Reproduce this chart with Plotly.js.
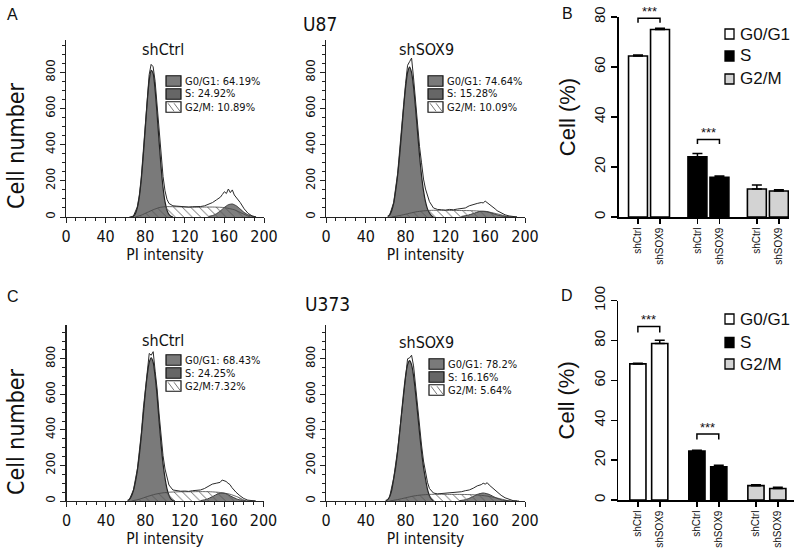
<!DOCTYPE html>
<html><head><meta charset="utf-8">
<script src="https://cdn.plot.ly/plotly-3.0.1.min.js"></script>
<style>html,body{margin:0;padding:0;background:#fff}#chart{width:800px;height:560px}</style>
</head><body><div id="chart"></div>
<script>
// ================= DATA =================
// PI intensity grid for the observed (total) histograms
const PI_GRID = [64,68,72,74,76,78,80,82,84,86,88,90,92,94,96,98,100,102,104,108,112,116,120,124,128,132,136,140,144,148,152,156,158,160,162,164,166,168,170,172,176,180,184,188,192];

// U87 shCtrl
const u87CtrlTotal = [0,4,55,118,218,352,508,662,788,845,832,752,620,475,338,225,145,98,75,62,60,57,58,55,57,56,58,62,72,80,95,110,125,140,130,155,135,150,122,110,80,45,20,6,0];
const u87CtrlG1X = [66,68,70,72,74,76,78,80,82,84,86,88,90,92,94,96,98,100,102,104,106,108];
const u87CtrlG1Y = [0,4,18,50,110,205,335,485,635,755,812,795,705,570,420,280,165,85,38,14,4,0];
const u87CtrlSX = [70,76,82,88,94,100,110,120,130,140,150,160,170,178,186];
const u87CtrlSY = [0,10,25,40,52,57,57,55,54,55,55,52,40,20,0];
const u87CtrlG2X = [144,148,152,156,160,164,168,172,176,180,184,188,192];
const u87CtrlG2Y = [3,8,18,34,53,68,72,62,44,25,12,5,0];
const u87CtrlLegend = ['G0/G1: 64.19%','S: 24.92%','G2/M: 10.89%'];

// U87 shSOX9
const u87Sox9Total = [12,80,241,354,485,621,740,840,860,880,770,640,520,390,300,210,155,115,85,50,42,40,38,42,40,44,45,50,62,70,75,80,78,88,80,72,65,55,45,35,22,12,6,2,0];
const u87Sox9G1X = [62,64,66,68,70,72,74,76,78,80,82,84,86,88,90,92,94,96,98,100,102,104,106,108];
const u87Sox9G1Y = [3,12,35,75,146,231,341,470,603,720,801,830,801,720,603,470,341,231,146,85,45,22,8,0];
const u87Sox9SX = [66,74,82,90,98,106,116,126,136,146,156,166,176,184];
const u87Sox9SY = [0,8,18,28,34,37,37,36,36,35,32,25,12,0];
const u87Sox9G2X = [136,142,148,154,158,162,168,174,180,186,192];
const u87Sox9G2Y = [3,9,19,30,32,30,19,9,3,1,0];
const u87Sox9Legend = ['G0/G1: 74.64%','S: 15.28%','G2/M: 10.09%'];

// U373 shCtrl
const u373CtrlTotal = [10,63,182,280,383,520,630,760,830,820,840,730,630,490,360,255,180,125,90,62,58,55,56,54,58,60,62,70,85,95,100,105,118,115,110,100,92,75,62,50,30,14,5,2,0];
const u373CtrlG1X = [62,64,66,68,70,72,74,76,78,80,82,84,86,88,90,92,94,96,98,100,102,104,106,108,110];
const u373CtrlG1Y = [3,10,28,60,109,174,261,369,488,608,710,780,805,780,700,590,450,320,210,130,70,32,12,3,0];
const u373CtrlSX = [66,74,82,90,98,106,116,126,136,146,156,166,174,182];
const u373CtrlSY = [0,10,25,38,46,50,52,52,53,52,48,38,22,0];
const u373CtrlG2X = [136,142,148,154,158,162,168,174,180,186,192];
const u373CtrlG2Y = [2,9,24,41,45,41,24,9,2,0,0];
const u373CtrlLegend = ['G0/G1: 68.43%','S: 24.25%','G2/M:7.32%'];

// U373 shSOX9
const u373Sox9Total = [25,128,287,394,510,623,730,800,805,820,760,640,530,420,315,225,160,105,70,45,40,42,40,44,46,48,52,58,62,72,85,92,100,95,103,90,80,70,60,50,32,18,8,2,0];
const u373Sox9G1X = [60,62,64,66,68,70,72,74,76,78,80,82,84,86,88,90,92,94,96,98,100,102,104,106,108];
const u373Sox9G1Y = [2,8,25,60,124,191,279,383,497,608,704,767,790,767,704,608,497,383,279,191,124,65,30,10,0];
const u373Sox9SX = [64,72,80,88,96,104,114,124,134,144,154,164,174,184];
const u373Sox9SY = [0,8,18,28,34,37,38,37,37,36,33,26,14,0];
const u373Sox9G2X = [134,140,146,152,158,164,170,176,182,188,194];
const u373Sox9G2Y = [2,7,20,37,45,37,20,7,2,0,0];
const u373Sox9Legend = ['G0/G1: 78.2%','S: 16.16%','G2/M: 5.64%'];

// Bar charts: groups (cell-cycle phase) x conditions
const PHASES = ['G0/G1','S','G2/M'];
const CONDITIONS = ['shCtrl','shSOX9'];
// B (U87)
const u87BarG1 = [64.4, 75.0];
const u87BarS  = [24.1, 15.9];
const u87BarG2 = [11.2, 10.4];
const u87ErrG1 = [0.4, 0.5];
const u87ErrS  = [1.3, 0.5];
const u87ErrG2 = [1.6, 0.5];
const u87SigLevels = [79.5, 31.0];   // bracket heights for G0/G1 and S
// D (U373)
const u373BarG1 = [68.3, 78.5];
const u373BarS  = [24.5, 16.6];
const u373BarG2 = [7.2, 5.8];
const u373ErrG1 = [0.3, 1.7];
const u373ErrS  = [0.4, 0.8];
const u373ErrG2 = [0.5, 0.6];
const u373SigLevels = [87.0, 33.1];

// ================= LAYOUT HELPERS =================
const W = 800, H = 560;
const fx = p => p / W;
const fy = p => 1 - p / H;
const NARROW = "'DejaVu Sans Condensed', 'Liberation Sans Narrow', sans-serif";
const ARIAL = "'Liberation Sans', Arial, sans-serif";
const INK = '#111';

function histX(d0, d1, anchor){
  return {domain:[fx(d0), fx(d1)], anchor, range:[0,200], tick0:0, dtick:40,
    ticks:'outside', ticklen:5, tickwidth:1, tickcolor:'#222',
    minor:{ticks:'outside', tick0:0, dtick:10, ticklen:3, tickwidth:1, tickcolor:'#222', showgrid:false},
    showline:true, linecolor:'#222', linewidth:1.2, showgrid:false, zeroline:false,
    tickfont:{family:NARROW, size:16, color:INK},
    title:{text:'PI intensity', font:{family:NARROW, size:15.5, color:INK}, standoff:2},
    layer:'above traces', fixedrange:true};
}
function histY(top, bottom, anchor, ymax){
  return {domain:[fy(bottom), fy(top)], anchor, range:[0, ymax], tick0:0, dtick:200,
    tickangle:-90, ticks:'outside', ticklen:5, tickwidth:1, tickcolor:'#222',
    minor:{ticks:'outside', tick0:0, dtick:50, ticklen:3, tickwidth:1, tickcolor:'#222', showgrid:false},
    showline:true, linecolor:'#222', linewidth:1.2, showgrid:false, zeroline:false,
    tickfont:{family:NARROW, size:13, color:INK}, layer:'above traces', fixedrange:true};
}

function histTraces(xa, ya, g1x, g1y, sx, sy, g2x, g2y, tot){
  const base = {xaxis:xa, yaxis:ya, showlegend:false, hoverinfo:'skip', type:'scatter', mode:'lines'};
  return [
    Object.assign({}, base, {x:g2x, y:g2y, fill:'tozeroy', fillcolor:'#7e7e7e', line:{color:'#3a3a3a', width:1, shape:'spline', smoothing:0.6}}),
    Object.assign({}, base, {x:g1x, y:g1y, fill:'tozeroy', fillcolor:'#7a7a7a', line:{color:'#222', width:1.2, shape:'spline', smoothing:0.6}}),
    Object.assign({}, base, {x:sx, y:sy, fill:'tozeroy', fillcolor:'rgba(0,0,0,0)',
      fillpattern:{shape:'\\', fgcolor:'#5a5a5a', bgcolor:'rgba(0,0,0,0)', size:6, solidity:0.15},
      line:{color:'#444', width:0.8, shape:'spline', smoothing:0.6}}),
    Object.assign({}, base, {x:PI_GRID, y:tot, line:{color:'#2a2a2a', width:1}})
  ];
}

const GROUP_STEP = 2.7;
const xpos = (g, i) => g * GROUP_STEP + i;
const BAR_FILLS = ['#ffffff', '#000000', '#d3d3d3'];

function barTraces(xa, ya, vals, errs, width){
  return vals.map((v, g) => ({
    type:'bar', xaxis:xa, yaxis:ya, showlegend:false, hoverinfo:'skip', name:PHASES[g],
    x:CONDITIONS.map((c, i) => xpos(g, i)), y:v, width:width,
    marker:{color:BAR_FILLS[g], line:{color:'#000', width:1.6}},
    error_y:{type:'data', symmetric:false, array:errs[g], arrayminus:[0,0], color:'#000', thickness:1.5, width:5}
  }));
}
function barX(d0, d1, anchor, rmax){
  const tv = [], tt = [];
  PHASES.forEach((p, g) => CONDITIONS.forEach((c, i) => { tv.push(xpos(g, i)); tt.push(c); }));
  return {domain:[fx(d0), fx(d1)], anchor, range:[(d0 - 638) / 22, rmax], tickvals:tv, ticktext:tt,
    tickangle:-90, ticks:'outside', ticklen:5, tickwidth:1.5, tickcolor:'#000',
    showline:true, linecolor:'#000', linewidth:1.6, showgrid:false, zeroline:false,
    tickfont:{family:ARIAL, size:10, color:INK}, layer:'above traces', fixedrange:true};
}
function barY(top, bottom, anchor, ymax){
  return {domain:[fy(bottom), fy(top)], anchor, range:[0, ymax], tick0:0, dtick:20,
    tickangle:-90, ticks:'outside', ticklen:6, tickwidth:1.5, tickcolor:'#000',
    showline:true, linecolor:'#000', linewidth:1.6, showgrid:false, zeroline:false,
    tickfont:{family:ARIAL, size:15, color:INK},
    title:{text:'Cell (%)', font:{family:ARIAL, size:22, color:INK}, standoff:10},
    layer:'above traces', fixedrange:true};
}

const shapes = [], annotations = [];
function txt(x, y, text, size, family, xanchor, angle){
  annotations.push({xref:'paper', yref:'paper', x:fx(x), y:fy(y), text, showarrow:false, textangle:angle || 0,
    xanchor:xanchor || 'center', yanchor:'middle', font:{family:family || NARROW, size, color:INK}});
}
function histLegend(labels, x0, rows){
  const w = 15, h = 10.5, fills = ['#7a7a7a', '#666666', '#ffffff'];
  rows.forEach((cy, i) => {
    const y0 = cy - h / 2, y1 = cy + h / 2;
    shapes.push({type:'rect', xref:'paper', yref:'paper', x0:fx(x0), x1:fx(x0 + w), y0:fy(y1), y1:fy(y0),
      fillcolor:fills[i], line:{color:'#111', width:1.2}});
    if (i === 2) {
      shapes.push({type:'path', xref:'paper', yref:'paper',
        path:`M${fx(x0+2)},${fy(y0+1.5)} L${fx(x0+8)},${fy(y1-1)} M${fx(x0+8)},${fy(y0+1.5)} L${fx(x0+14)},${fy(y1-1)}`,
        line:{color:'#555', width:0.8}});
    }
    txt(x0 + w + 2, cy, labels[i], 11, NARROW, 'left');
  });
}
function barLegend(x0, rows){
  const w = 9, h = 10;
  rows.forEach((cy, i) => {
    shapes.push({type:'rect', xref:'paper', yref:'paper', x0:fx(x0), x1:fx(x0 + w), y0:fy(cy + h / 2), y1:fy(cy - h / 2),
      fillcolor:BAR_FILLS[i], line:{color:'#000', width:1.3}});
    txt(x0 + w + 4, cy, PHASES[i], 17, ARIAL, 'left');
  });
}
// bracket in data coords; stars placed in paper coords (may sit above the axis range)
function sigBracket(xa, ya, top, bottom, ymax, g, level, drop, starOffsetPx){
  shapes.push({type:'path', xref:xa, yref:ya,
    path:`M${xpos(g,0)},${level - drop} L${xpos(g,0)},${level} L${xpos(g,1)},${level} L${xpos(g,1)},${level - drop}`,
    line:{color:'#000', width:1.5}});
  const py = bottom - (bottom - top) * level / ymax - starOffsetPx;
  annotations.push({xref:xa, yref:'paper', x:(xpos(g,0) + xpos(g,1)) / 2, y:fy(py), text:'***', showarrow:false,
    xanchor:'center', yanchor:'middle', font:{family:ARIAL, size:13, color:INK}});
}

// ================= TRACES =================
const data = [].concat(
  histTraces('x','y', u87CtrlG1X, u87CtrlG1Y, u87CtrlSX, u87CtrlSY, u87CtrlG2X, u87CtrlG2Y, u87CtrlTotal),
  histTraces('x2','y2', u87Sox9G1X, u87Sox9G1Y, u87Sox9SX, u87Sox9SY, u87Sox9G2X, u87Sox9G2Y, u87Sox9Total),
  histTraces('x3','y3', u373CtrlG1X, u373CtrlG1Y, u373CtrlSX, u373CtrlSY, u373CtrlG2X, u373CtrlG2Y, u373CtrlTotal),
  histTraces('x4','y4', u373Sox9G1X, u373Sox9G1Y, u373Sox9SX, u373Sox9SY, u373Sox9G2X, u373Sox9G2Y, u373Sox9Total),
  barTraces('x5','y5', [u87BarG1, u87BarS, u87BarG2], [u87ErrG1, u87ErrS, u87ErrG2], 0.86),
  barTraces('x6','y6', [u373BarG1, u373BarS, u373BarG2], [u373ErrG1, u373ErrS, u373ErrG2], 0.74)
);

// ================= DECORATION =================
txt(12.5, 14, 'A', 16, ARIAL); txt(567, 13, 'B', 16, ARIAL);
txt(12.5, 296, 'C', 16, ARIAL); txt(567, 295, 'D', 16, ARIAL);
txt(320, 24, 'U87', 19); txt(327.5, 304, 'U373', 19);
txt(162.5, 49, 'shCtrl', 16); txt(426.7, 49, 'shSOX9', 16);
txt(162.5, 340, 'shCtrl', 16); txt(426.7, 342, 'shSOX9', 16);
txt(16, 146, 'Cell number', 23, NARROW, 'center', -90);
txt(16, 432, 'Cell number', 23, NARROW, 'center', -90);
histLegend(u87CtrlLegend, 166, [81, 94, 107]);
histLegend(u87Sox9Legend, 428, [81, 94, 107]);
histLegend(u373CtrlLegend, 166, [360, 373, 386]);
histLegend(u373Sox9Legend, 429, [364, 377, 390]);
barLegend(725, [34, 56, 79]);
barLegend(725, [319, 342.5, 364]);
sigBracket('x5','y5', 17, 217, 80, 0, u87SigLevels[0], 1.8, 7);
sigBracket('x5','y5', 17, 217, 80, 1, u87SigLevels[1], 1.8, 7);
sigBracket('x6','y6', 300.7, 500, 100, 0, u373SigLevels[0], 3, 7);
sigBracket('x6','y6', 300.7, 500, 100, 1, u373SigLevels[1], 2.7, 7);

const layout = {
  width:W, height:H, margin:{l:0, r:0, t:0, b:0}, paper_bgcolor:'#fff', plot_bgcolor:'rgba(0,0,0,0)',
  showlegend:false, font:{family:NARROW, color:INK},
  xaxis:histX(66, 264, 'y'),   yaxis:histY(40, 217, 'x', 980),
  xaxis2:histX(326, 525, 'y2'), yaxis2:histY(40, 217, 'x2', 980),
  xaxis3:histX(66.5, 263.5, 'y3'), yaxis3:histY(325, 501, 'x3', 990),
  xaxis4:histX(326, 525, 'y4'), yaxis4:histY(325, 501, 'x4', 990),
  xaxis5:barX(619, 789, 'y5', 6.86), yaxis5:barY(17, 217, 'x5', 80),
  xaxis6:barX(618.3, 794, 'y6', 7.14), yaxis6:barY(300.7, 500, 'x6', 100),
  shapes, annotations
};

Plotly.newPlot('chart', data, layout, {staticPlot:true, displayModeBar:false});
</script>
</body></html>
